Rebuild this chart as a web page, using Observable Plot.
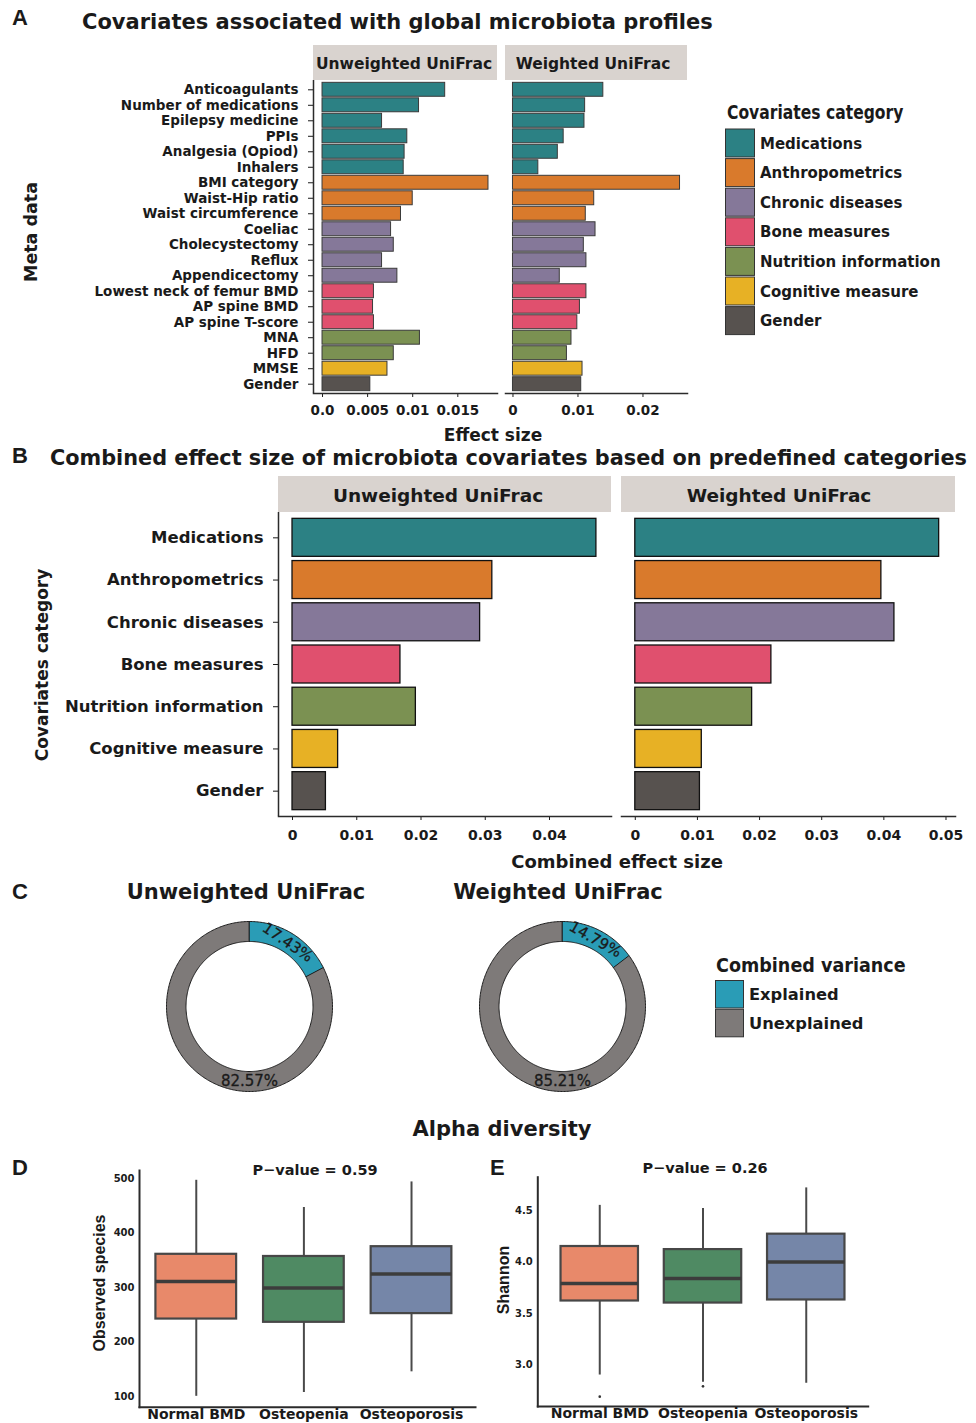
<!DOCTYPE html>
<html><head><meta charset="utf-8">
<script src="https://cdn.jsdelivr.net/npm/d3@7"></script>
<script src="https://cdn.jsdelivr.net/npm/@observablehq/plot@0.6"></script>
<style>
body{margin:0;background:#fff;}
#root{position:relative;width:976px;height:1423px;overflow:hidden;background:#fff;}
#root svg{position:absolute;overflow:visible;}
</style></head><body><div id="root"></div>
<script>
// ---------------- DATA ----------------
const covariates = ["Anticoagulants","Number of medications","Epilepsy medicine","PPIs","Analgesia (Opiod)","Inhalers","BMI category","Waist-Hip ratio","Waist circumference","Coeliac","Cholecystectomy","Reflux","Appendicectomy","Lowest neck of femur BMD","AP spine BMD","AP spine T-score","MNA","HFD","MMSE","Gender"];
const covariateCategory = ["Medications","Medications","Medications","Medications","Medications","Medications","Anthropometrics","Anthropometrics","Anthropometrics","Chronic diseases","Chronic diseases","Chronic diseases","Chronic diseases","Bone measures","Bone measures","Bone measures","Nutrition information","Nutrition information","Cognitive measure","Gender"];
const effectUnweighted = [0.0136,0.0107,0.0066,0.0094,0.0091,0.0090,0.0184,0.0100,0.0087,0.0076,0.0079,0.0066,0.0083,0.0057,0.0056,0.0057,0.0108,0.0079,0.0072,0.0053];
const effectWeighted   = [0.0139,0.0111,0.0110,0.0078,0.0069,0.0039,0.0257,0.0125,0.0112,0.0127,0.0109,0.0113,0.0072,0.0113,0.0103,0.0099,0.0090,0.0083,0.0107,0.0105];

const categories = ["Medications","Anthropometrics","Chronic diseases","Bone measures","Nutrition information","Cognitive measure","Gender"];
const categoryColors = ["#2c8184","#d97a2c","#857899","#e0506e","#7b9152","#e7b125","#57524f"];
const combinedUnweighted = [0.0473,0.0311,0.0292,0.0168,0.0192,0.0071,0.0052];
const combinedWeighted   = [0.0489,0.0396,0.0417,0.0219,0.0188,0.0107,0.0104];

const varianceParts = ["Explained","Unexplained"];
const varianceColors = ["#2a9cb6","#7e7a79"];
const explainedPct = [17.43, 14.79];          // Unweighted, Weighted
const unexplainedPct = [82.57, 85.21];
const distanceNames = ["Unweighted UniFrac","Weighted UniFrac"];

const groups = ["Normal BMD","Osteopenia","Osteoporosis"];
const groupColors = ["#e8896a","#4f8a63","#7586a8"];
const obsLow  = [100, 107, 145];
const obsQ1   = [242, 236, 252];
const obsMed  = [311, 299, 325];
const obsQ3   = [361, 357, 375];
const obsHigh = [497, 447, 494];
const obsP = "P\u2212value = 0.59";
const shLow  = [2.90, 2.83, 2.82];
const shQ1   = [3.62, 3.60, 3.63];
const shMed  = [3.79, 3.84, 4.00];
const shQ3   = [4.15, 4.12, 4.27];
const shHigh = [4.55, 4.52, 4.72];
const shOutlierGroup = ["Normal BMD","Osteopenia"];
const shOutlierValue = [2.69, 2.79];
const shP = "P\u2212value = 0.26";

const ticksAU = [0,0.005,0.01,0.015], ticksAULabels = ["0.0","0.005","0.01","0.015"];
const ticksAW = [0,0.01,0.02], ticksAWLabels = ["0","0.01","0.02"];
const ticksBU = [0,0.01,0.02,0.03,0.04], ticksBULabels = ["0","0.01","0.02","0.03","0.04"];
const ticksBW = [0,0.01,0.02,0.03,0.04,0.05], ticksBWLabels = ["0","0.01","0.02","0.03","0.04","0.05"];
const ticksObs = [100,200,300,400,500];
const ticksSh = [3.0,3.5,4.0,4.5];

// ---------------- HELPERS ----------------
const root = document.getElementById("root");
const FONT = '"DejaVu Sans", sans-serif';
const ARIAL = '"Liberation Sans", Arial, sans-serif';
function place(el, left, top){ el.style.left = left+"px"; el.style.top = top+"px"; root.appendChild(el); return el; }
function baseStyle(fs){ return {fontFamily: FONT, fontSize: fs+"px", fontWeight: "bold", color: "#1a1a1a", background: "transparent", overflow: "visible"}; }
function tickFmt(ticks, labels){ const m = new Map(ticks.map((t,i)=>[t, labels[i]])); return d => m.has(d) ? m.get(d) : ""; }
const AX = "#2b2b2b";

// ---------------- PANEL A ----------------
const rowsA = covariates.map((name,i)=>({name, category: covariateCategory[i], unweighted: effectUnweighted[i], weighted: effectWeighted[i]}));
const colorCat = {domain: categories, range: categoryColors};
const xDomAU = [-0.001, 0.0194];
const xDomAW = [-0.00115, 0.02685];
const yA = {domain: covariates, paddingInner: 0.1, paddingOuter: 0.15, round: false};

place(Plot.plot({
  width: 500, height: 440, marginLeft: 313, marginRight: 3, marginTop: 80, marginBottom: 47,
  style: baseStyle(13.5),
  x: {domain: xDomAU}, y: yA, color: colorCat,
  marks: [
    Plot.barX(rowsA, {y: "name", x: "unweighted", fill: "category", stroke: "#3a3a3a", strokeWidth: 1}),
    Plot.axisY({tickSize: 5, tickPadding: 10, label: null, fontSize: 13.5}),
    Plot.axisX({ticks: ticksAU, tickFormat: tickFmt(ticksAU, ticksAULabels), tickSize: 4, tickPadding: 8, label: null, fontSize: 13.5}),
    Plot.ruleX([xDomAU[0]], {stroke: AX, strokeWidth: 1.5}),
    Plot.frame({anchor: "bottom", stroke: AX, strokeWidth: 1.5})
  ]
}), 0, 0);

place(Plot.plot({
  width: 200, height: 440, marginLeft: 15, marginRight: 3, marginTop: 80, marginBottom: 47,
  style: baseStyle(13.5),
  x: {domain: xDomAW}, y: {...yA, axis: null}, color: colorCat,
  marks: [
    Plot.barX(rowsA, {y: "name", x: "weighted", fill: "category", stroke: "#3a3a3a", strokeWidth: 1}),
    Plot.axisX({ticks: ticksAW, tickFormat: tickFmt(ticksAW, ticksAWLabels), tickSize: 4, tickPadding: 8, label: null, fontSize: 13.5}),
    Plot.frame({anchor: "bottom", stroke: AX, strokeWidth: 1.5})
  ]
}), 490, 0);

// ---------------- PANEL B ----------------
const rowsB = categories.map((c,i)=>({category: c, unweighted: combinedUnweighted[i], weighted: combinedWeighted[i]}));
const xDomBU = [-0.00218, 0.04965];
const xDomBW = [-0.00222, 0.05153];
const yB = {domain: categories, paddingInner: 0.1, paddingOuter: 0.15, round: false};

place(Plot.plot({
  width: 620, height: 440, marginLeft: 278, marginRight: 9, marginTop: 72, marginBottom: 64,
  style: baseStyle(16.5),
  x: {domain: xDomBU}, y: yB, color: colorCat,
  marks: [
    Plot.barX(rowsB, {y: "category", x: "unweighted", fill: "category", stroke: "#111", strokeWidth: 1.3}),
    Plot.axisY({tickSize: 5, tickPadding: 10, label: null, fontSize: 16.5}),
    Plot.axisX({ticks: ticksBU, tickFormat: tickFmt(ticksBU, ticksBULabels), tickSize: 4, tickPadding: 10, label: null, fontSize: 14}),
    Plot.ruleX([xDomBU[0]], {stroke: AX, strokeWidth: 1.5}),
    Plot.frame({anchor: "bottom", stroke: AX, strokeWidth: 1.5})
  ]
}), 0, 440);

place(Plot.plot({
  width: 376, height: 440, marginLeft: 21, marginRight: 21, marginTop: 72, marginBottom: 64,
  style: baseStyle(14),
  x: {domain: xDomBW}, y: {...yB, axis: null}, color: colorCat,
  marks: [
    Plot.barX(rowsB, {y: "category", x: "weighted", fill: "category", stroke: "#111", strokeWidth: 1.3}),
    Plot.axisX({ticks: ticksBW, tickFormat: tickFmt(ticksBW, ticksBWLabels), tickSize: 4, tickPadding: 10, label: null, fontSize: 14}),
    Plot.frame({anchor: "bottom", stroke: AX, strokeWidth: 1.5})
  ]
}), 600, 440);

// ---------------- PANEL C (donuts) ----------------
const R_IN = 0.765;
function ringPoints(f0, f1, rOut, rIn){
  const pts = [];
  const n = Math.max(2, Math.ceil((f1 - f0) * 360));
  for (let k = 0; k <= n; k++){ const a = 2*Math.PI*(f0 + (f1-f0)*k/n); pts.push({x: rOut*Math.sin(a), y: rOut*Math.cos(a)}); }
  for (let k = n; k >= 0; k--){ const a = 2*Math.PI*(f0 + (f1-f0)*k/n); pts.push({x: rIn*Math.sin(a), y: rIn*Math.cos(a)}); }
  return pts;
}
function donut(i){
  const fE = explainedPct[i]/100;
  const explained = ringPoints(0, fE, 1, R_IN);
  const unexplained = ringPoints(fE, 1, 1, R_IN);
  const rMid = (1 + R_IN)/2;
  const aE = Math.PI * fE;            // middle of explained slice
  const aU = Math.PI;                 // bottom of ring for the unexplained label
  const labels = [
    {x: rMid*Math.sin(aE), y: rMid*Math.cos(aE), text: explainedPct[i].toFixed(2)+"%", rot: aE*180/Math.PI + 3},
    {x: rMid*Math.sin(aU), y: rMid*Math.cos(aU), text: unexplainedPct[i].toFixed(2)+"%", rot: 0}
  ];
  return Plot.plot({
    width: 200, height: 200, margin: 0,
    style: {...baseStyle(15), fontWeight: "normal"},
    x: {domain: [-100/83, 100/83], axis: null},
    y: {domain: [-100/85, 100/85], axis: null},
    marks: [
      Plot.line(unexplained, {x: "x", y: "y", fill: varianceColors[1], stroke: "#1e1e1e", strokeWidth: 1, curve: "linear-closed"}),
      Plot.line(explained, {x: "x", y: "y", fill: varianceColors[0], stroke: "#1e1e1e", strokeWidth: 1, curve: "linear-closed"}),
      Plot.text(labels, {x: "x", y: "y", text: "text", rotate: "rot", fontSize: 15, fill: "#1a1a1a", stroke: "#1a1a1a", strokeWidth: 0.3})
    ]
  });
}
place(donut(0), 149, 906);
place(donut(1), 462, 906);

// ---------------- PANELS D & E (box plots) ----------------
function boxRows(lo, q1, md, q3, hi){ return groups.map((g,i)=>({group: g, lo: lo[i], q1: q1[i], med: md[i], q3: q3[i], hi: hi[i]})); }
function boxMarks(rows, outliers){
  return [
    Plot.ruleX(rows, {x: "group", y1: "lo", y2: "hi", stroke: "#4a4a4a", strokeWidth: 2}),
    Plot.barY(rows, {x: "group", y1: "q1", y2: "q3", fill: "group", stroke: "#474747", strokeWidth: 2.2}),
    Plot.tickY(rows, {x: "group", y: "med", stroke: "#3c3c3c", strokeWidth: 3.5}),
    ...(outliers ? [Plot.dot(outliers, {x: "group", y: "value", r: 1.3, fill: "#333"})] : []),
    Plot.frame({anchor: "left", stroke: AX, strokeWidth: 2}),
    Plot.frame({anchor: "bottom", stroke: AX, strokeWidth: 2})
  ];
}
const colorGroup = {domain: groups, range: groupColors};

place(Plot.plot({
  width: 490, height: 313, marginLeft: 139, marginRight: 15, marginTop: 60, marginBottom: 16.3,
  style: baseStyle(10),
  x: {domain: groups, paddingInner: 0.25, paddingOuter: 0.186, align: 0.41, round: false},
  y: {domain: [80, 515]},
  color: colorGroup,
  marks: [
    ...boxMarks(boxRows(obsLow, obsQ1, obsMed, obsQ3, obsHigh)),
    Plot.axisY({ticks: ticksObs, tickSize: 0, tickPadding: 5, label: null, fontSize: 10}),
    Plot.axisX({tickSize: 0, tickPadding: 2, label: null, fontSize: 14})
  ]
}), 0, 1110);

const shOutliers = shOutlierGroup.map((g,i)=>({group: g, value: shOutlierValue[i]}));
place(Plot.plot({
  width: 496, height: 313, marginLeft: 57.3, marginRight: 108.3, marginTop: 66.7, marginBottom: 17,
  style: baseStyle(10),
  x: {domain: groups, paddingInner: 0.25, paddingOuter: 0.225, round: false},
  y: {domain: [2.594, 4.824]},
  color: colorGroup,
  marks: [
    ...boxMarks(boxRows(shLow, shQ1, shMed, shQ3, shHigh), shOutliers),
    Plot.axisY({ticks: ticksSh, tickFormat: d3.format(".1f"), tickSize: 0, tickPadding: 5, label: null, fontSize: 10}),
    Plot.axisX({tickSize: 0, tickPadding: 2, label: null, fontSize: 14})
  ]
}), 480, 1110);

// ---------------- TEXT, STRIPS, LEGENDS ----------------
const ov = d3.create("svg").attr("width", 976).attr("height", 1423).style("left","0px").style("top","0px").style("pointer-events","none");
function txt(x, y, s, o = {}){
  const {size = 14, weight = "bold", anchor = "start", family = FONT, rotate = 0, sx = 1, fill = "#1a1a1a"} = o;
  ov.append("text").attr("transform", `translate(${x},${y}) rotate(${rotate}) scale(${sx},1)`)
    .attr("text-anchor", anchor).attr("font-family", family).attr("font-size", size)
    .attr("font-weight", weight).attr("fill", fill).text(s);
}
function strip(x0, x1, y0, y1, label, size, base, cx){
  ov.append("rect").attr("x", x0).attr("y", y0).attr("width", x1-x0).attr("height", y1-y0).attr("fill", "#d9d3cf");
  txt(cx, base, label, {size, anchor: "middle"});
}
// panel letters
[["A",25],["B",463],["C",899],["D",1175]].forEach(([l,y])=>txt(12, y, l, {size: 22, family: ARIAL}));
txt(490, 1175, "E", {size: 22, family: ARIAL});

// Panel A
txt(82, 29, "Covariates associated with global microbiota profiles", {size: 21});
strip(313, 497, 45, 80, distanceNames[0], 15.5, 69, 404);
strip(505, 687, 45, 80, distanceNames[1], 15.5, 69, 593);
txt(37, 232, "Meta data", {size: 17.5, anchor: "middle", rotate: -90});
txt(493, 441, "Effect size", {size: 17, anchor: "middle"});
txt(727, 119, "Covariates category", {size: 19, sx: 0.82});
categories.forEach((c,i)=>{
  const top = 129 + i*29.6;
  ov.append("rect").attr("x", 725.5).attr("y", top).attr("width", 29).attr("height", 28).attr("fill", categoryColors[i]).attr("stroke", "#333").attr("stroke-width", 1);
  txt(760, top + 14 + 5.5, c, {size: 15});
});

// Panel B
txt(50, 465, "Combined effect size of microbiota covariates based on predefined categories", {size: 20.8});
strip(278, 611, 476, 512, distanceNames[0], 18.5, 502, 438);
strip(621, 955, 476, 512, distanceNames[1], 18.5, 502, 779);
txt(48, 665, "Covariates category", {size: 17, anchor: "middle", rotate: -90});
txt(617, 868, "Combined effect size", {size: 18, anchor: "middle"});

// Panel C
txt(246, 899, distanceNames[0], {size: 21, anchor: "middle"});
txt(558, 899, distanceNames[1], {size: 21, anchor: "middle"});
txt(716, 972, "Combined variance", {size: 19, sx: 0.925});
varianceParts.forEach((p,i)=>{
  const top = 980.5 + i*28.8;
  ov.append("rect").attr("x", 715.5).attr("y", top).attr("width", 28).attr("height", 27.5).attr("fill", varianceColors[i]).attr("stroke", "#333").attr("stroke-width", 1);
  txt(749, top + 13.8 + 6, p, {size: 16.3});
});

// Panels D/E
txt(502, 1136, "Alpha diversity", {size: 21, anchor: "middle"});
txt(315, 1174.5, obsP, {size: 14.5, anchor: "middle"});
txt(705, 1173, shP, {size: 14.5, anchor: "middle"});
txt(105, 1283, "Observed species", {size: 16, anchor: "middle", rotate: -90, family: ARIAL});
txt(509, 1280, "Shannon", {size: 16, anchor: "middle", rotate: -90, family: ARIAL});

root.appendChild(ov.node());
</script></body></html>
